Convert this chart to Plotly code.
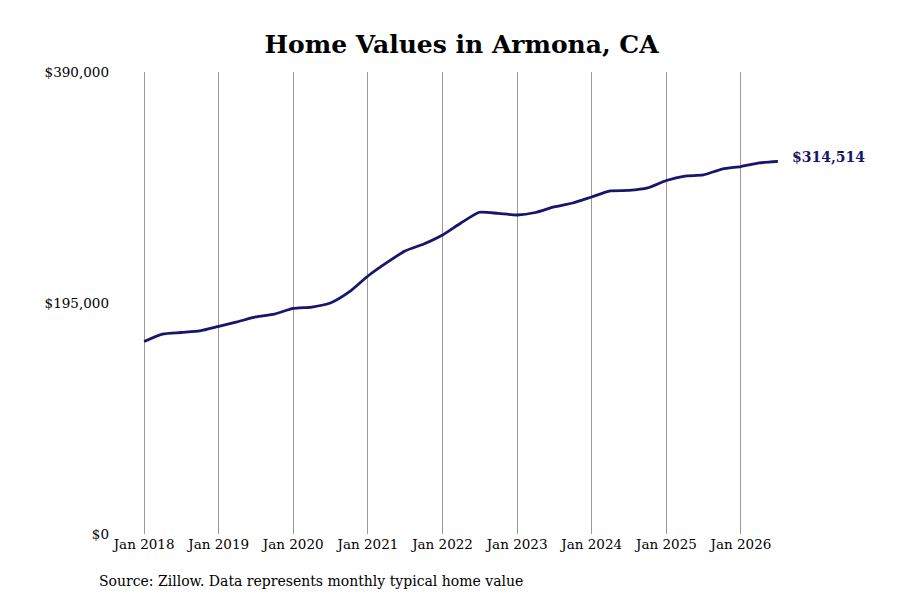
import plotly.graph_objects as go

# quarterly typical home values
dates = [
    "2018-01-01", "2018-04-01", "2018-07-01", "2018-10-01",
    "2019-01-01", "2019-04-01", "2019-07-01", "2019-10-01",
    "2020-01-01", "2020-04-01", "2020-07-01", "2020-10-01",
    "2021-01-01", "2021-04-01", "2021-07-01", "2021-10-01",
    "2022-01-01", "2022-04-01", "2022-07-01", "2022-10-01",
    "2023-01-01", "2023-04-01", "2023-07-01", "2023-10-01",
    "2024-01-01", "2024-04-01", "2024-07-01", "2024-10-01",
    "2025-01-01", "2025-04-01", "2025-07-01", "2025-10-01",
    "2026-01-01", "2026-04-01", "2026-07-01",
]
values = [
    162500, 168800, 170100, 171400,
    175200, 179000, 183200, 185700,
    190400, 191600, 195000, 204300,
    217800, 228800, 238900, 244800,
    252400, 262500, 271600, 270600,
    269300, 271400, 276100, 279400,
    284500, 289600, 290000, 292100,
    298400, 302200, 303100, 308100,
    310200, 313200, 314514,
]

tick_dates = [f"{y}-01-01" for y in range(2018, 2027)]
tick_text = [f"Jan {y}" for y in range(2018, 2027)]
y_ticks = [0, 195000, 390000]
y_text = ["$0", "$195,000", "$390,000"]

navy = "#16166a"
serif = "DejaVu Serif"

fig = go.Figure(go.Scatter(
    x=dates, y=values, mode="lines",
    line=dict(color=navy, width=2.8, shape="spline", smoothing=0.6),
    hoverinfo="skip",
))

# end-of-line value label
fig.add_annotation(
    x=dates[-1], y=values[-1], xanchor="left", yanchor="middle",
    xshift=12, yshift=4, showarrow=False,
    text=f"<b>${values[-1]:,}</b>",
    font=dict(family=serif, size=14, color=navy),
)

# source note under the axis
fig.add_annotation(
    x=(89 - 102) / 680, y=-(573 - 526) / 462,
    xref="x domain", yref="y domain", xanchor="left", yanchor="middle",
    showarrow=False,
    text="Source: Zillow. Data represents monthly typical home value",
    font=dict(family=serif, size=14, color="black"),
)

fig.update_layout(
    width=900, height=600,
    margin=dict(l=102, r=118, t=64, b=74),
    paper_bgcolor="white", plot_bgcolor="white",
    showlegend=False,
    title=dict(text="<b>Home Values in Armona, CA</b>", x=0.504, y=1 - 36 / 600,
               xanchor="center", yanchor="middle",
               font=dict(family=serif, size=25, color="black")),
    font=dict(family=serif, size=13.5, color="black"),
)
fig.update_xaxes(
    range=["2017-07-18", "2026-08-29"],
    tickvals=tick_dates, ticktext=tick_text,
    showgrid=True, gridcolor="#9a9a9a", gridwidth=1,
    showline=False, zeroline=False, ticks="",
    tickfont=dict(family=serif, size=13.5),
)
fig.update_yaxes(
    range=[0, 390000], tickvals=y_ticks, ticktext=y_text,
    showgrid=False, zeroline=False, showline=False, ticks="",
    tickfont=dict(family=serif, size=13.5),
)

fig.write_html("out.html")
